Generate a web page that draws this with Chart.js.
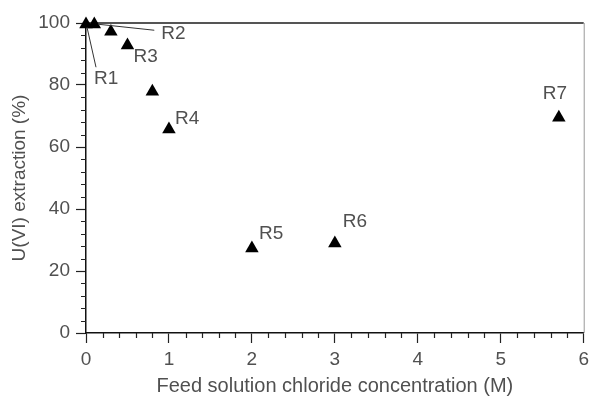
<!DOCTYPE html>
<html>
<head>
<meta charset="utf-8">
<script src="https://cdn.jsdelivr.net/npm/chart.js@4"></script>
<style>
  html, body { margin: 0; padding: 0; background: #fff; }
  #wrap { width: 594px; height: 399px; }
</style>
</head>
<body>
<div id="wrap"><canvas id="chart" width="594" height="399"></canvas></div>
<script>
// datos
const chlorideM = [0, 0.1, 0.3, 0.5, 0.8, 1.0, 2.0, 3.0, 5.7];
const extraction = [99.6, 99.6, 97.2, 92.8, 77.9, 65.7, 27.3, 28.9, 69.5];
const runLabels = ['R1', 'R2', '', 'R3', '', 'R4', 'R5', 'R6', 'R7'];
const xTicks = [0, 1, 2, 3, 4, 5, 6];
const yTicks = [0, 20, 40, 60, 80, 100];

// donde va cada etiqueta respecto a su punto (px)
const labelPlace = {
  R1: { dx: 8, dy: 55, leader: [1, 3, 10, 43] },
  R2: { dx: 67, dy: 10, leader: [4, 0, 60, 6] },
  R3: { dx: 6, dy: 11 },
  R4: { dx: 6, dy: -11 },
  R5: { dx: 7, dy: -15 },
  R6: { dx: 8, dy: -22 },
  R7: { dx: -16, dy: -24 }
};

const textColor = '#505050';
const fontFamily = 'Arial, "Liberation Sans", sans-serif';

const decor = {
  id: 'decor',
  beforeDatasetsDraw(chart) {
    const { ctx, chartArea } = chart;
    const xs = chart.scales.x, ys = chart.scales.y;
    ctx.save();
    // marco superior y derecho
    ctx.strokeStyle = '#555';
    ctx.lineWidth = 2;
    ctx.beginPath();
    ctx.moveTo(chartArea.left, chartArea.top);
    ctx.lineTo(chartArea.right, chartArea.top);
    ctx.stroke();
    ctx.strokeStyle = '#999';
    ctx.lineWidth = 1;
    ctx.beginPath();
    ctx.moveTo(chartArea.right + 0.5, chartArea.top);
    ctx.lineTo(chartArea.right + 0.5, chartArea.bottom);
    ctx.stroke();
    // ticks menores
    ctx.strokeStyle = '#222';
    ctx.lineWidth = 1.2;
    ctx.beginPath();
    for (let i = 0; i <= 30; i++) {
      if (i % 5 === 0) continue;
      const px = Math.round(xs.getPixelForValue(i * 0.2)) + 0.5;
      ctx.moveTo(px, chartArea.bottom);
      ctx.lineTo(px, chartArea.bottom + 5);
    }
    for (let v = 0; v <= 100; v += 4) {
      if (v % 20 === 0) continue;
      const py = Math.round(ys.getPixelForValue(v)) + 0.5;
      ctx.moveTo(chartArea.left, py);
      ctx.lineTo(chartArea.left - 5, py);
    }
    ctx.stroke();
    ctx.restore();
  },
  afterDatasetsDraw(chart) {
    const { ctx } = chart;
    const xs = chart.scales.x, ys = chart.scales.y;
    ctx.save();
    ctx.font = '19px ' + fontFamily;
    ctx.fillStyle = textColor;
    ctx.textAlign = 'left';
    ctx.textBaseline = 'middle';
    runLabels.forEach((lab, i) => {
      if (!lab) return;
      const p = labelPlace[lab];
      const px = xs.getPixelForValue(chlorideM[i]);
      const py = ys.getPixelForValue(extraction[i]);
      if (p.leader) {
        ctx.strokeStyle = '#333';
        ctx.lineWidth = 1;
        ctx.beginPath();
        ctx.moveTo(px + p.leader[0], py + p.leader[1]);
        ctx.lineTo(px + p.leader[2], py + p.leader[3]);
        ctx.stroke();
      }
      ctx.fillText(lab, px + p.dx, py + p.dy);
    });
    ctx.restore();
  }
};

new Chart(document.getElementById('chart').getContext('2d'), {
  type: 'scatter',
  data: {
    datasets: [{
      data: chlorideM.map((x, i) => ({ x: x, y: extraction[i] })),
      pointStyle: 'triangle',
      pointRadius: 7.8,
      backgroundColor: '#000',
      borderColor: '#000',
      borderWidth: 0,
      clip: false
    }]
  },
  options: {
    responsive: false,
    animation: false,
    layout: { padding: { top: 23, right: 7, left: 0, bottom: 0 } },
    plugins: { legend: { display: false }, tooltip: { enabled: false } },
    scales: {
      x: {
        type: 'linear',
        min: 0,
        max: 6,
        afterBuildTicks: s => { s.ticks = xTicks.map(v => ({ value: v })); },
        afterFit: s => { s.height = 66; },
        grid: { drawOnChartArea: false, tickLength: 10, tickColor: '#222', tickWidth: 1.2 },
        border: { color: '#111', width: 1.5 },
        ticks: { color: textColor, font: { size: 19, family: fontFamily }, padding: 5, maxRotation: 0 },
        title: {
          display: true,
          text: 'Feed solution chloride concentration (M)',
          color: textColor,
          font: { size: 20, family: fontFamily },
          padding: { top: 0, bottom: 1 }
        }
      },
      y: {
        type: 'linear',
        min: 0,
        max: 100,
        afterBuildTicks: s => { s.ticks = yTicks.map(v => ({ value: v })); },
        afterFit: s => { s.width = 86; },
        grid: { drawOnChartArea: false, tickLength: 10, tickColor: '#222', tickWidth: 1.2 },
        border: { color: '#111', width: 1.5 },
        ticks: { color: textColor, font: { size: 19, family: fontFamily }, padding: 6 },
        title: {
          display: true,
          text: 'U(VI) extraction (%)',
          color: textColor,
          font: { size: 19, family: fontFamily },
          padding: { top: 8, bottom: 0 }
        }
      }
    }
  },
  plugins: [decor]
});
</script>
</body>
</html>
